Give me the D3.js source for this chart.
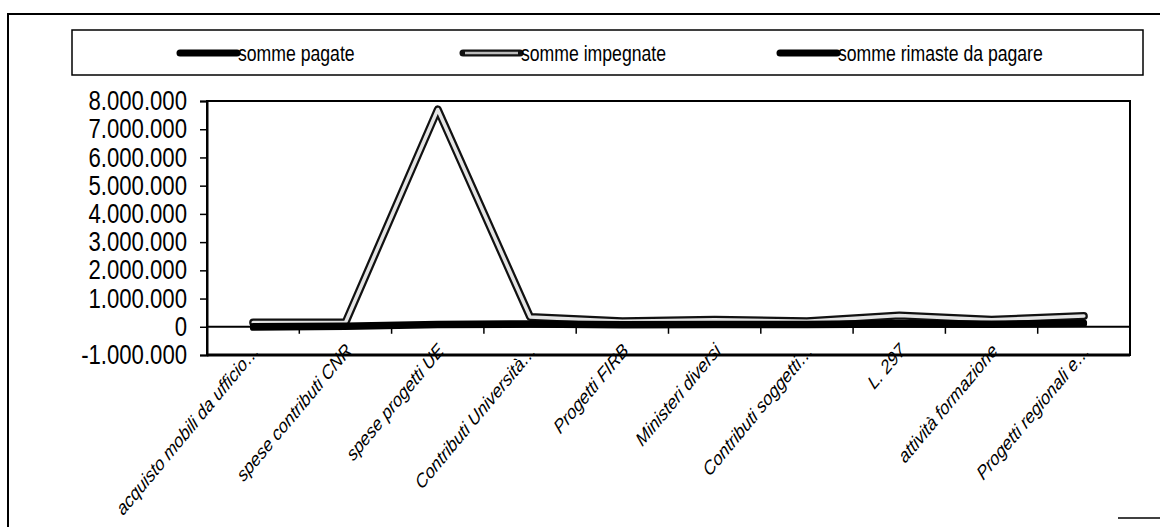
<!DOCTYPE html>
<html>
<head>
<meta charset="utf-8">
<script src="https://cdn.jsdelivr.net/npm/d3@7"></script>
<style>
  body { margin: 0; background: #fff; }
  svg { display: block; }
</style>
</head>
<body>
<div id="container"></div>
<script>
// chart data
let categories = [
    "acquisto mobili da ufficio…",
    "spese contributi CNR",
    "spese progetti UE",
    "Contributi Università…",
    "Progetti FIRB",
    "Ministeri diversi",
    "Contributi soggetti…",
    "L. 297",
    "attività formazione",
    "Progetti regionali e…"
];
let seriesNames = ["somme pagate", "somme impegnate", "somme rimaste da pagare"];
let sommePagate = [20000, 40000, 100000, 120000, 90000, 100000, 100000, 130000, 110000, 140000];
let sommeImpegnate = [150000, 150000, 7700000, 350000, 200000, 250000, 200000, 400000, 250000, 380000];
let sommeRimaste = [-30000, 0, 60000, 80000, 50000, 60000, 60000, 80000, 70000, 110000];
let yTicks = [-1000000, 0, 1000000, 2000000, 3000000, 4000000, 5000000, 6000000, 7000000, 8000000];

let width = 1160, height = 527;
let sans = "'Liberation Sans', Arial, sans-serif";

let svg = d3.select('#container')
    .append('svg')
    .attr('width', width)
    .attr('height', height);

// squeeze text horizontally (the scan is stretched vertically)
function narrowText(sel, factor) {
    sel.each(function() {
        let w = this.getComputedTextLength();
        d3.select(this)
            .attr('textLength', w * factor)
            .attr('lengthAdjust', 'spacingAndGlyphs');
    });
}

// outer chart frame (scan is cut at right and bottom)
svg.append('path')
    .attr('d', 'M8,527 L8,14 L1160,14')
    .attr('fill', 'none')
    .attr('stroke', '#000')
    .attr('stroke-width', 2);
svg.append('line')
    .attr('x1', 1118).attr('x2', 1160)
    .attr('y1', 518).attr('y2', 518)
    .attr('stroke', '#000')
    .attr('stroke-width', 1.5);

let itIT = d3.formatLocale({decimal: ",", thousands: ".", grouping: [3], currency: ["€", ""], minus: "-"});
let fmt = itIT.format(",d");

let x = d3.scaleBand()
    .domain(categories)
    .range([207, 1130]);
let y = d3.scaleLinear()
    .domain([-1000000, 8000000])
    .range([355, 101]);
let cx = d => x(d) + x.bandwidth() / 2;

// plot frame
svg.append('rect')
    .attr('x', 207).attr('y', 101)
    .attr('width', 1130 - 207).attr('height', 355 - 101)
    .attr('fill', 'none')
    .attr('stroke', '#000')
    .attr('stroke-width', 2);
svg.append('line')
    .attr('x1', 207).attr('x2', 1130)
    .attr('y1', 355).attr('y2', 355)
    .attr('stroke', '#000')
    .attr('stroke-width', 3);

// y axis
let yAxis = svg.append('g')
    .attr('transform', 'translate(207,0)')
    .call(d3.axisLeft(y).tickValues(yTicks).tickFormat(fmt).tickSize(7).tickPadding(13));
yAxis.select('.domain').attr('stroke-width', 2);
yAxis.selectAll('.tick line').attr('stroke-width', 1.5);
yAxis.selectAll('text')
    .attr('font-family', sans)
    .attr('font-size', 27)
    .attr('fill', '#000')
    .call(narrowText, 0.82);

// category axis on the zero line, ticks between categories
svg.append('line')
    .attr('x1', 207).attr('x2', 1130)
    .attr('y1', y(0)).attr('y2', y(0))
    .attr('stroke', '#000')
    .attr('stroke-width', 2);
svg.selectAll('.cat-tick')
    .data(categories.slice(1))
    .enter()
    .append('line')
    .attr('class', 'cat-tick')
    .attr('x1', d => x(d)).attr('x2', d => x(d))
    .attr('y1', y(0)).attr('y2', y(0) + 7)
    .attr('stroke', '#000')
    .attr('stroke-width', 1.5);

// category labels, low position, rotated 45deg in the stretched scan
svg.selectAll('.cat-label')
    .data(categories)
    .enter()
    .append('text')
    .attr('class', 'cat-label')
    .attr('transform', d => `translate(${cx(d) + 3},${347}) scale(1,1.2) rotate(-45)`)
    .attr('text-anchor', 'end')
    .attr('dy', '0.35em')
    .attr('font-family', sans)
    .attr('font-style', 'italic')
    .attr('font-size', 16.3)
    .attr('fill', '#000')
    .text(d => d);

// lines
let line = d3.line()
    .x((d, i) => cx(categories[i]))
    .y(d => y(d));

function drawSeries(values, kind) {
    if (kind === 'double') {
        svg.append('path')
            .attr('d', line(values))
            .attr('fill', 'none')
            .attr('stroke', '#111')
            .attr('stroke-width', 8)
            .attr('stroke-linejoin', 'round')
            .attr('stroke-linecap', 'round');
        svg.append('path')
            .attr('d', line(values))
            .attr('fill', 'none')
            .attr('stroke', '#e4e4e4')
            .attr('stroke-width', 3.5)
            .attr('stroke-linejoin', 'round')
            .attr('stroke-linecap', 'round');
    } else {
        svg.append('path')
            .attr('d', line(values))
            .attr('fill', 'none')
            .attr('stroke', '#000')
            .attr('stroke-width', 6.5)
            .attr('stroke-linejoin', 'round')
            .attr('stroke-linecap', 'round');
    }
}
drawSeries(sommeImpegnate, 'double');
drawSeries(sommeRimaste, 'solid');
drawSeries(sommePagate, 'solid');

// legend
let legend = svg.append('g');
legend.append('rect')
    .attr('x', 72).attr('y', 30)
    .attr('width', 1143 - 72).attr('height', 45)
    .attr('fill', '#fff')
    .attr('stroke', '#000')
    .attr('stroke-width', 1.5);

let legendX = [180, 463, 780];
let legendKind = ['solid', 'double', 'solid'];
seriesNames.forEach((name, i) => {
    let x0 = legendX[i], x1 = legendX[i] + 57, ly = 53;
    if (legendKind[i] === 'double') {
        legend.append('line')
            .attr('x1', x0).attr('x2', x1).attr('y1', ly).attr('y2', ly)
            .attr('stroke', '#111').attr('stroke-width', 7).attr('stroke-linecap', 'round');
        legend.append('line')
            .attr('x1', x0 + 2).attr('x2', x1 - 2).attr('y1', ly).attr('y2', ly)
            .attr('stroke', '#bbb').attr('stroke-width', 2.5);
    } else {
        legend.append('line')
            .attr('x1', x0).attr('x2', x1).attr('y1', ly).attr('y2', ly)
            .attr('stroke', '#000').attr('stroke-width', 7).attr('stroke-linecap', 'round');
    }
    legend.append('text')
        .attr('x', x1 + 1)
        .attr('y', ly)
        .attr('dy', '0.35em')
        .attr('font-family', sans)
        .attr('font-size', 21.5)
        .attr('fill', '#000')
        .text(name)
        .call(narrowText, 0.82);
});
</script>
</body>
</html>
